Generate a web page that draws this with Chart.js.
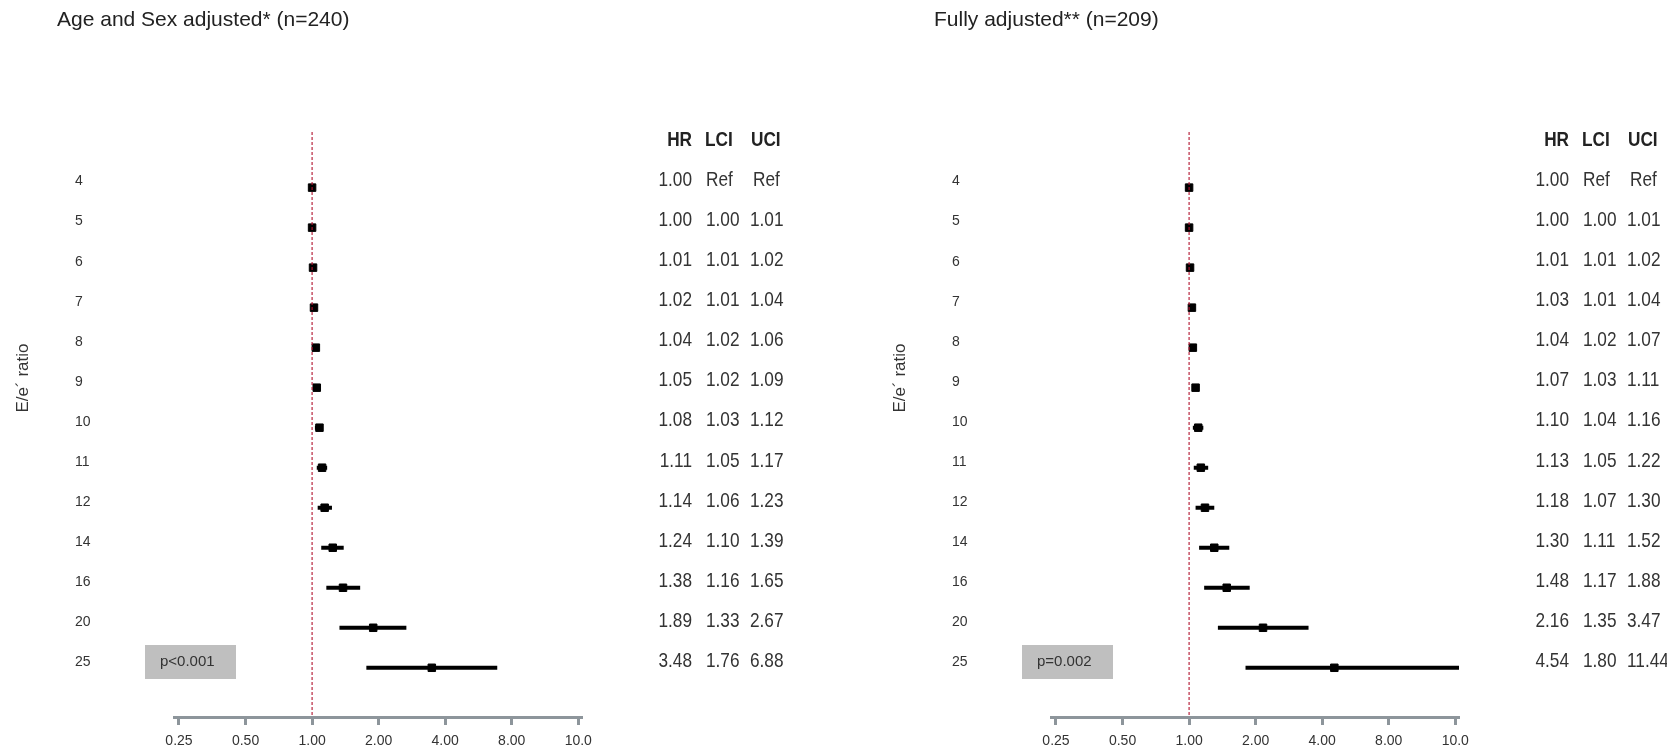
<!DOCTYPE html>
<html>
<head>
<meta charset="utf-8">
<script src="https://cdn.jsdelivr.net/npm/chart.js@4.4.1/dist/chart.umd.min.js"></script>
<style>
  html, body { margin: 0; padding: 0; background: #fff; }
  canvas { position: absolute; top: 0; }
</style>
</head>
<body>
<canvas id="ageChart" width="877" height="752" style="left:0"></canvas>
<canvas id="fullChart" width="790" height="752" style="left:877px"></canvas>
<script>
// E/e' ratio categories, top to bottom
const rowLabels = ['4', '5', '6', '7', '8', '9', '10', '11', '12', '14', '16', '20', '25'];

// Age and Sex adjusted (n=240)
const hrAge  = [1.00, 1.00, 1.01, 1.02, 1.04, 1.05, 1.08, 1.11, 1.14, 1.24, 1.38, 1.89, 3.48];
const lciAge = [null, 1.00, 1.01, 1.01, 1.02, 1.02, 1.03, 1.05, 1.06, 1.10, 1.16, 1.33, 1.76];
const uciAge = [null, 1.01, 1.02, 1.04, 1.06, 1.09, 1.12, 1.17, 1.23, 1.39, 1.65, 2.67, 6.88];

// Fully adjusted (n=209)
const hrFull  = [1.00, 1.00, 1.01, 1.03, 1.04, 1.07, 1.10, 1.13, 1.18, 1.30, 1.48, 2.16, 4.54];
const lciFull = [null, 1.00, 1.01, 1.01, 1.02, 1.03, 1.04, 1.05, 1.07, 1.11, 1.17, 1.35, 1.80];
const uciFull = [null, 1.01, 1.02, 1.04, 1.07, 1.11, 1.16, 1.22, 1.30, 1.52, 1.88, 3.47, 11.44];

const xTickValues = [0.25, 0.5, 1, 2, 4, 8, 10];
const xTickLabels = ['0.25', '0.50', '1.00', '2.00', '4.00', '8.00', '10.0'];

// log2 axis up to 8, last segment 8..10 squeezed into one step
const pos = v => v <= 8 ? Math.log2(v) : 3 + (v - 8) / 2;

const X_MIN = -2.075, X_MAX = 4.056;
const Y_MIN = -1.39, Y_MAX = 13.23;
const AXIS_GREY = '#8d959b';
const SANS = '"Liberation Sans", Arial, sans-serif';
const SQUEEZE = 0.82;   // table text is set condensed

function fmt(v) { return v == null ? 'Ref' : v.toFixed(2); }

// draw text squeezed horizontally (no narrow font installed)
function narrowText(ctx, text, x, y, align) {
  const w = ctx.measureText(text).width * SQUEEZE;
  const left = align === 'right' ? x - w : x;
  ctx.save();
  ctx.translate(left, y);
  ctx.scale(SQUEEZE, 1);
  ctx.textAlign = 'left';
  ctx.fillText(text, 0, 0);
  ctx.restore();
}

const panelText = {
  id: 'panelText',
  afterDraw(chart, args, opts) {
    const ctx = chart.ctx;
    const y = chart.scales.y;
    ctx.save();
    ctx.fillStyle = '#222';
    ctx.textBaseline = 'middle';

    ctx.font = '21px ' + SANS;
    ctx.textAlign = 'left';
    ctx.fillText(opts.title, 57, 20);

    ctx.save();
    ctx.translate(23, 378);
    ctx.rotate(-Math.PI / 2);
    ctx.textAlign = 'center';
    ctx.font = '17px ' + SANS;
    ctx.fillStyle = '#333';
    ctx.fillText('E/e\u00b4 ratio', 0, 0);
    ctx.restore();

    // p-value box
    ctx.fillStyle = '#bfbfbf';
    ctx.fillRect(145, 645, 91, 34);
    ctx.fillStyle = '#333';
    ctx.font = '15px ' + SANS;
    ctx.textAlign = 'left';
    ctx.fillText(opts.p, 160, 662);

    // HR / LCI / UCI table
    const hy = y.getPixelForValue(-1) - 7;
    ctx.fillStyle = '#222';
    ctx.font = 'bold 21px ' + SANS;
    narrowText(ctx, 'HR', 692, hy, 'right');
    narrowText(ctx, 'LCI', 705, hy, 'left');
    narrowText(ctx, 'UCI', 751, hy, 'left');

    ctx.fillStyle = '#333';
    ctx.font = '21px ' + SANS;
    opts.hr.forEach((h, i) => {
      const ty = y.getPixelForValue(i) - 7;
      narrowText(ctx, fmt(h), 692, ty, 'right');
      narrowText(ctx, fmt(opts.lci[i]), 706, ty, 'left');
      const u = fmt(opts.uci[i]);
      narrowText(ctx, u, u === 'Ref' ? 753 : 750, ty, 'left');
    });
    ctx.restore();
  }
};

function makeForest(canvasId, title, p, hr, lci, uci) {
  const ciData = [];
  hr.forEach((h, i) => {
    if (lci[i] == null) return;
    ciData.push({x: pos(lci[i]), y: i}, {x: pos(uci[i]), y: i}, {x: null, y: null});
  });
  const hrData = hr.map((h, i) => ({x: pos(h), y: i}));
  const canvas = document.getElementById(canvasId);

  return new Chart(canvas, {
    type: 'scatter',
    data: {
      datasets: [
        {
          type: 'line',
          data: [{x: 0, y: Y_MIN}, {x: 0, y: Y_MAX}],
          borderColor: '#b3122e',
          borderWidth: 1.1,
          borderDash: [3, 2],
          pointRadius: 0
        },
        {
          type: 'scatter',
          data: hrData,
          pointStyle: 'rect',
          pointRadius: 5.3,
          pointBackgroundColor: '#000',
          pointBorderColor: '#000',
          pointBorderWidth: 1
        },
        {
          type: 'line',
          data: ciData,
          borderColor: '#000',
          borderWidth: 4,
          borderCapStyle: 'butt',
          spanGaps: false,
          pointRadius: 0
        }
      ]
    },
    options: {
      responsive: false,
      devicePixelRatio: 1,
      animation: false,
      layout: {
        padding: {left: 75, right: canvas.width - 582, top: 132, bottom: 0}
      },
      plugins: {
        legend: {display: false},
        tooltip: {enabled: false},
        panelText: {title: title, p: p, hr: hr, lci: lci, uci: uci}
      },
      scales: {
        x: {
          type: 'linear',
          min: X_MIN,
          max: X_MAX,
          afterBuildTicks: s => { s.ticks = xTickValues.map(v => ({value: pos(v)})); },
          afterFit: s => { s.height = 35; },
          grid: {
            drawOnChartArea: false,
            drawTicks: true,
            tickLength: 8,
            tickWidth: 3,
            tickColor: AXIS_GREY
          },
          border: {display: true, color: AXIS_GREY, width: 3},
          ticks: {
            padding: 8,
            color: '#333',
            font: {family: SANS, size: 14},
            maxRotation: 0,
            autoSkip: false,
            callback: (v, i) => xTickLabels[i]
          }
        },
        y: {
          type: 'linear',
          reverse: true,
          min: Y_MIN,
          max: Y_MAX,
          afterBuildTicks: s => { s.ticks = rowLabels.map((l, i) => ({value: i})); },
          afterFit: s => { s.width = 99; },
          grid: {display: false, drawTicks: false},
          border: {display: false},
          ticks: {
            crossAlign: 'far',
            labelOffset: -6,
            color: '#333',
            font: {family: SANS, size: 14},
            autoSkip: false,
            callback: (v, i) => rowLabels[i]
          }
        }
      }
    },
    plugins: [panelText]
  });
}

makeForest('ageChart', 'Age and Sex adjusted* (n=240)', 'p<0.001', hrAge, lciAge, uciAge);
makeForest('fullChart', 'Fully adjusted** (n=209)', 'p=0.002', hrFull, lciFull, uciFull);
</script>
</body>
</html>
